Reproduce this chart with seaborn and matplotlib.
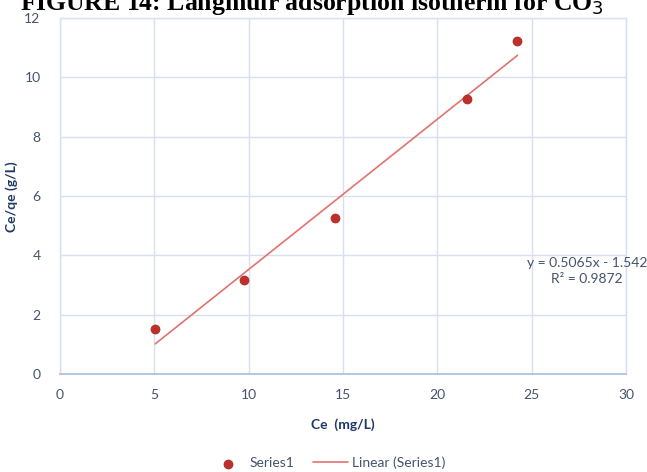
import numpy as np
import pandas as pd
import matplotlib
matplotlib.use("Agg")
import matplotlib.pyplot as plt
import seaborn as sns

# Data
ce = [5.05, 9.75, 14.6, 21.6, 24.25]
ce_qe = [1.52, 3.17, 5.26, 9.27, 11.22]
slope = 0.5065
intercept = -1.542
x_ticks = [0, 5, 10, 15, 20, 25, 30]
y_ticks = [0, 2, 4, 6, 8, 10, 12]

sns.set_style("white")
plt.rcParams['font.family'] = ['Lato', 'DejaVu Sans']

tick_col = '#44546A'
lab_col = '#1F3864'
grid_col = '#D6E0F0'

fig = plt.figure(figsize=(6.47, 4.72), dpi=100)
ax = fig.add_axes([0.0927, 0.2076, 0.8748, 0.7543])

df = pd.DataFrame({'Ce': ce, 'Ce_qe': ce_qe})
xfit = np.array([min(ce), max(ce)])
fit = pd.DataFrame({'Ce': xfit, 'fit': slope * xfit + intercept})

sns.lineplot(data=fit, x='Ce', y='fit', ax=ax, color='#E0736E', linewidth=1.2,
             label='Linear (Series1)', zorder=2)
sns.scatterplot(data=df, x='Ce', y='Ce_qe', ax=ax, color='#C0302A', s=42,
                edgecolor='#A02520', linewidth=0.5, label='Series1', zorder=3)

ax.set_xlim(0, 30)
ax.set_ylim(0, 12)
ax.set_xticks(x_ticks)
ax.set_yticks(y_ticks)
ax.grid(True, color=grid_col, linewidth=1)
ax.set_axisbelow(True)
for s in ['top', 'right', 'left']:
    ax.spines[s].set_color(grid_col)
    ax.spines[s].set_linewidth(1)
ax.spines['bottom'].set_color('#A9BEDD')
ax.spines['bottom'].set_linewidth(1.2)
ax.tick_params(axis='x', length=0, labelsize=10, labelcolor=tick_col, pad=11)
ax.tick_params(axis='y', length=0, labelsize=10, labelcolor=tick_col, pad=14)

ax.set_xlabel('Ce  (mg/L)', fontsize=10, fontweight='bold', color=lab_col)
ax.set_ylabel('Ce/qe (g/L)', fontsize=10, fontweight='bold', color=lab_col)
ax.xaxis.set_label_coords((343 - 60) / 566, (374 - 418) / 356)
ax.yaxis.set_label_coords((18 - 60) / 566, (374 - 197) / 356)

ax.text(587 / 647, 1 - 271 / 472, 'y = 0.5065x - 1.542\nR² = 0.9872',
        transform=fig.transFigure, ha='center', va='center', fontsize=10,
        color=tick_col, linespacing=1.35)

handles, labels = ax.get_legend_handles_labels()
order = [1, 0]
leg = ax.legend([handles[i] for i in order], [labels[i] for i in order],
                loc='center', bbox_to_anchor=(328 / 647, 1 - 463 / 472),
                bbox_transform=fig.transFigure, ncol=2, frameon=False,
                fontsize=10, handlelength=2.5, handletextpad=0.3,
                columnspacing=1.4)
for t in leg.get_texts():
    t.set_color(tick_col)

fig.text(312 / 647, 1 - 10 / 472, 'FIGURE 14: Langmuir adsorption isotherm for CO$_3$',
         ha='center', va='baseline', fontsize=18.5, fontweight='bold',
         family=['Liberation Serif', 'DejaVu Serif'], color='black')

fig.savefig('out.png', dpi=100)
